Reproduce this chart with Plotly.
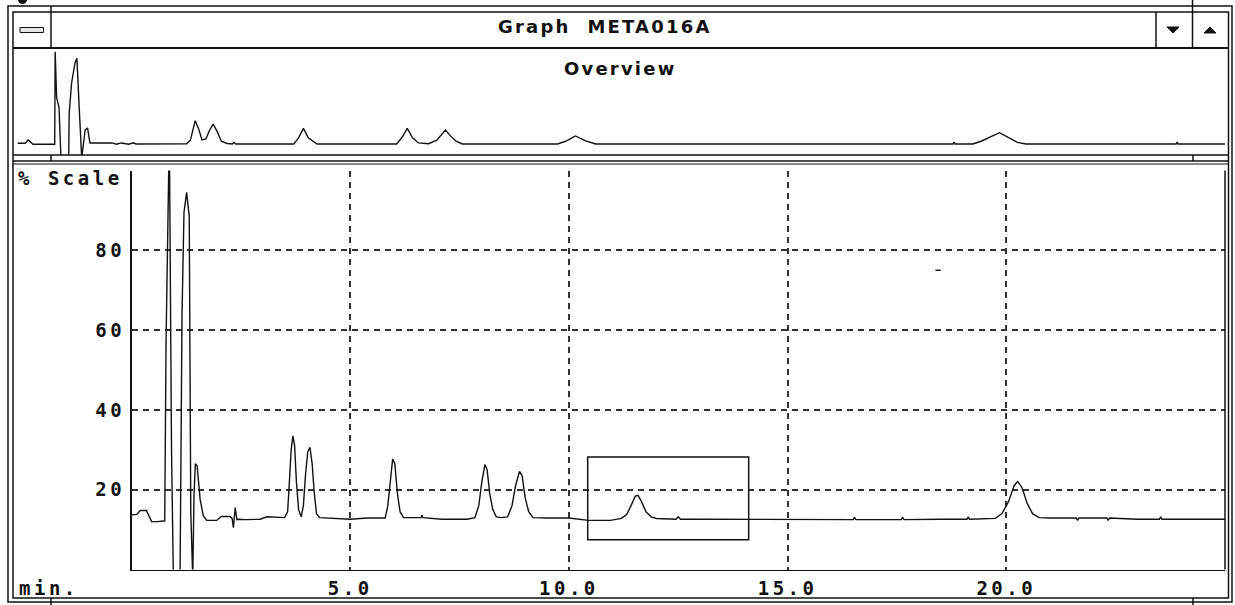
import plotly.graph_objects as go

# ---------------- data ----------------
# main chromatogram: retention time (min) and signal (% scale)
time_min = [0.00, 0.12, 0.20, 0.34, 0.46, 0.60, 0.76, 0.79, 0.865, 0.915, 0.957, 1.11, 1.13, 1.155,
            1.20, 1.26, 1.32, 1.355, 1.40, 1.43, 1.46, 1.50, 1.57, 1.64, 1.72, 1.95, 2.05, 2.25, 2.30,
            2.33, 2.37, 2.41, 2.45, 2.60, 2.94, 3.10, 3.50, 3.57, 3.61, 3.65, 3.69, 3.73, 3.77, 3.82,
            3.88, 3.93, 3.98, 4.03, 4.08, 4.13, 4.18, 4.23, 4.30, 4.60, 5.00, 5.40, 5.80, 5.86, 5.92,
            5.97, 6.02, 6.08, 6.14, 6.22, 6.62, 6.64, 6.66, 7.10, 7.67, 7.85, 7.94, 8.01, 8.08, 8.13,
            8.19, 8.26, 8.34, 8.45, 8.60, 8.70, 8.78, 8.87, 8.93, 9.00, 9.08, 9.18, 9.50, 10.00, 10.45,
            10.95, 11.20, 11.32, 11.42, 11.52, 11.58, 11.66, 11.76, 11.88, 12.00, 12.45, 12.50, 12.55,
            13.00, 14.00, 15.00, 16.00, 16.50, 16.53, 16.56, 17.00, 17.60, 17.63, 17.66, 18.50, 19.10,
            19.13, 19.16, 19.75, 19.90, 20.05, 20.18, 20.26, 20.36, 20.48, 20.60, 20.75, 21.00, 21.60,
            21.63, 21.66, 22.30, 22.33, 22.36, 23.00, 23.50, 23.53, 23.56, 24.00, 25.00]
signal_pct = [13.7, 13.8, 14.8, 14.8, 12.0, 12.0, 12.2, 57.0, 110.0, 30.0, -2.0, -2.0, 27.5, 64.0,
              89.5, 94.5, 88.5, 14.5, -2.0, 19.0, 26.5, 26.0, 17.5, 13.5, 12.3, 12.3, 13.3, 13.3, 12.8,
              10.5, 15.5, 12.5, 12.6, 12.5, 12.6, 13.2, 13.0, 14.5, 22.0, 30.0, 33.5, 31.0, 22.0, 15.0,
              13.2, 16.0, 24.0, 29.5, 30.6, 26.5, 19.0, 14.0, 13.0, 12.9, 12.6, 12.9, 12.9, 16.0, 23.0,
              27.7, 26.5, 19.0, 14.5, 13.0, 13.0, 13.7, 13.0, 12.6, 12.6, 13.0, 16.0, 22.0, 26.3, 25.0,
              19.0, 15.0, 13.2, 13.0, 13.2, 16.0, 21.0, 24.6, 23.5, 18.0, 14.5, 13.0, 12.9, 12.9, 12.3,
              12.3, 12.8, 13.8, 16.0, 18.4, 18.6, 17.0, 14.5, 13.2, 12.8, 12.6, 13.2, 12.6,
              12.6, 12.6, 12.6, 12.5, 12.5, 13.1, 12.5, 12.5, 12.5, 13.1, 12.5, 12.6, 12.6,
              13.2, 12.6, 12.8, 14.0, 17.0, 21.0, 22.1, 20.5, 16.5, 14.0, 13.0, 12.9, 12.9,
              12.3, 12.9, 12.9, 12.3, 12.9, 12.6, 12.6, 13.2, 12.6, 12.6, 12.6]

# overview trace (coarser copy of the run, same units)
ov_time = [0.00, 0.16, 0.22, 0.27, 0.32, 0.77, 0.78, 0.81, 0.86, 0.90, 1.06, 1.07, 1.12, 1.19, 1.23,
           1.28, 1.33, 1.40, 1.45, 1.50, 1.80, 1.95, 2.05, 2.15, 2.30, 2.40, 2.45, 3.50, 3.58, 3.68,
           3.75, 3.82, 3.90, 3.98, 4.05, 4.13, 4.22, 4.34, 4.45, 4.48, 4.52, 5.72, 5.82, 5.92, 6.02,
           6.20, 7.85, 7.97, 8.07, 8.18, 8.30, 8.51, 8.68, 8.78, 8.86, 8.96, 9.08, 9.21, 11.18, 11.35,
           11.55, 11.75, 11.97, 19.37, 19.39, 19.41, 19.78, 19.95, 20.12, 20.33, 20.55, 20.70, 20.88,
           23.99, 24.01, 24.03, 25.00]
ov_signal = [13.2, 13.2, 16.1, 14.0, 12.3, 12.3, 94.6, 54.0, 45.0, 0.0, 0.0, 40.0, 66.8, 84.6, 88.7,
             42.8, 0.0, 25.0, 26.8, 13.4, 13.4, 13.6, 12.4, 13.5, 12.4, 13.6, 12.6, 12.8, 16.0, 33.3,
             26.0, 16.1, 17.0, 25.0, 30.3, 24.0, 15.0, 13.0, 12.6, 14.0, 12.6, 12.6, 18.0, 26.5, 18.0,
             12.6, 12.6, 19.0, 26.5, 18.0, 13.5, 12.8, 16.0, 21.0, 25.0, 20.0, 15.0, 12.6, 12.6, 15.0,
             19.7, 15.5, 12.6, 12.6, 14.2, 12.6, 12.6, 15.0, 18.5, 22.6, 17.5, 14.0, 12.6,
             12.6, 14.2, 12.6, 12.6]

# stray pixel mark inside the plot
stray_time = [18.38, 18.50]
stray_pct = [75.0, 75.0]

# zoom window drawn on the plot (data coordinates)
zoom_window_time = [10.43, 14.11]
zoom_window_pct = [7.45, 28.2]

x_tick_vals = [5.0, 10.0, 15.0, 20.0]
x_tick_text = ["5.0", "10.0", "15.0", "20.0"]
y_tick_vals = [20, 40, 60, 80, 100]
y_tick_text = ["20", "40", "60", "80", ""]

window_title = "Graph  META016A"
overview_title = "Overview"
y_title = "% Scale"
x_title = "min."

# ---------------- layout helpers ----------------
W, H = 1235, 605
INK = "#111111"
MONO = "DejaVu Sans Mono"
SANS = "DejaVu Sans"


def px(x):
    return x / W


def py(y):
    return 1 - y / H


def spaced(t, s=3.5):
    return f'<span style="letter-spacing:{s}px">{t}</span>'


fig = go.Figure()

fig.add_trace(go.Scatter(x=time_min, y=signal_pct, mode="lines",
                         line=dict(color=INK, width=1.4), xaxis="x", yaxis="y",
                         hoverinfo="skip", showlegend=False))
fig.add_trace(go.Scatter(x=stray_time, y=stray_pct, mode="lines",
                         line=dict(color=INK, width=1.4), xaxis="x", yaxis="y",
                         hoverinfo="skip", showlegend=False))
fig.add_trace(go.Scatter(x=ov_time, y=ov_signal, mode="lines",
                         line=dict(color=INK, width=1.4), xaxis="x2", yaxis="y2",
                         hoverinfo="skip", showlegend=False))

shapes = []


def hline(y, x0, x1, w=1.5):
    shapes.append(dict(type="line", xref="paper", yref="paper", x0=px(x0), x1=px(x1),
                       y0=py(y), y1=py(y), line=dict(color=INK, width=w)))


def vline(x, y0, y1, w=1.5):
    shapes.append(dict(type="line", xref="paper", yref="paper", x0=px(x), x1=px(x),
                       y0=py(y0), y1=py(y1), line=dict(color=INK, width=w)))


def rect(x0, y0, x1, y1, w=1.5, fill="rgba(0,0,0,0)"):
    shapes.append(dict(type="rect", xref="paper", yref="paper", x0=px(x0), x1=px(x1),
                       y0=py(y1), y1=py(y0), line=dict(color=INK, width=w), fillcolor=fill))


# window frame
rect(8, 6, 1232, 602)
rect(13, 12, 1228.5, 598)
hline(48, 13, 1228.5, 2)
vline(51, 6, 48)
vline(1156, 12, 48)
vline(1192.5, 0, 48)
# system menu dash
rect(20, 27.5, 43.5, 32.5, 1, "#e6e6e6")
# scroll arrows
shapes.append(dict(type="path", xref="paper", yref="paper",
                   path=f"M {px(1167)},{py(27)} L {px(1179)},{py(27)} L {px(1173)},{py(33)} Z",
                   fillcolor=INK, line=dict(color=INK, width=1)))
shapes.append(dict(type="path", xref="paper", yref="paper",
                   path=f"M {px(1204)},{py(33)} L {px(1216)},{py(33)} L {px(1210)},{py(27)} Z",
                   fillcolor=INK, line=dict(color=INK, width=1)))
# splitter between overview and main graph
hline(155, 13, 1228.5)
hline(161, 13, 1228.5)
hline(164, 13, 1228.5, 1)
vline(51, 155, 161)
vline(1193, 155, 161)
# bottom ticks
vline(51, 598, 605)
vline(1193, 598, 605)
# stray glyph at top-left corner
shapes.append(dict(type="circle", xref="paper", yref="paper", x0=px(18), x1=px(27),
                   y0=py(4), y1=py(-5), fillcolor=INK, line=dict(color=INK, width=0)))

# main plot right border
shapes.append(dict(type="line", xref="x domain", yref="y domain", x0=1, x1=1, y0=0, y1=1,
                   line=dict(color=INK, width=1.5)))
# zoom window box
shapes.append(dict(type="rect", xref="x", yref="y",
                   x0=zoom_window_time[0], x1=zoom_window_time[1],
                   y0=zoom_window_pct[0], y1=zoom_window_pct[1],
                   line=dict(color=INK, width=1.5)))

annotations = [
    dict(text=spaced(window_title, 2.2), xref="paper", yref="paper", x=px(605), y=py(26),
         xanchor="center", yanchor="middle", showarrow=False,
         font=dict(family=SANS, size=18, color=INK, weight="bold")),
    dict(text=spaced(overview_title, 2.2), xref="paper", yref="paper", x=px(620), y=py(68),
         xanchor="center", yanchor="middle", showarrow=False,
         font=dict(family=SANS, size=18, color=INK, weight="bold")),
    dict(text=spaced(y_title), xref="paper", yref="paper", x=px(16), y=py(178),
         xanchor="left", yanchor="middle", showarrow=False,
         font=dict(family=MONO, size=19, color=INK, weight="bold")),
    dict(text=spaced(x_title), xref="paper", yref="paper", x=px(17), y=py(588),
         xanchor="left", yanchor="middle", showarrow=False,
         font=dict(family=MONO, size=19, color=INK, weight="bold")),
]

grid_style = dict(showgrid=True, gridcolor="#333333", gridwidth=2, griddash="6px,5px")

fig.update_layout(
    template="none",
    width=W, height=H,
    margin=dict(l=0, r=0, t=0, b=0, pad=0, autoexpand=False),
    paper_bgcolor="white", plot_bgcolor="white",
    showlegend=False,
    shapes=shapes,
    annotations=annotations,
    xaxis=dict(domain=[px(131.5), px(1225)], range=[0, 25], anchor="y", automargin=False,
               tickmode="array", tickvals=x_tick_vals,
               ticktext=[spaced(t) for t in x_tick_text],
               ticks="", ticklabelstandoff=1,
               tickfont=dict(family=MONO, size=19, color=INK, weight="bold"),
               showline=True, linecolor=INK, linewidth=1.5, zeroline=False,
               fixedrange=True, **grid_style),
    yaxis=dict(domain=[py(569.5), py(170.5)], range=[0, 100], anchor="x", automargin=False,
               tickmode="array", tickvals=y_tick_vals,
               ticktext=[spaced(t) for t in y_tick_text],
               ticks="", ticklabelstandoff=1,
               tickfont=dict(family=MONO, size=19, color=INK, weight="bold"),
               showline=True, linecolor=INK, linewidth=1.5, zeroline=False,
               fixedrange=True, **grid_style),
    xaxis2=dict(domain=[px(17.5), px(1225)], range=[0, 25], anchor="y2", automargin=False,
                showgrid=False, showticklabels=False, showline=False, zeroline=False,
                ticks="", fixedrange=True),
    yaxis2=dict(domain=[py(155), py(48)], range=[2.78, 97.9], anchor="x2", automargin=False,
                showgrid=False, showticklabels=False, showline=False, zeroline=False,
                ticks="", fixedrange=True),
)

fig.write_html(
    "out.html",
    config={"displayModeBar": False, "staticPlot": True},
    post_script="document.body.style.margin='0px';document.body.style.overflow='hidden';",
)
